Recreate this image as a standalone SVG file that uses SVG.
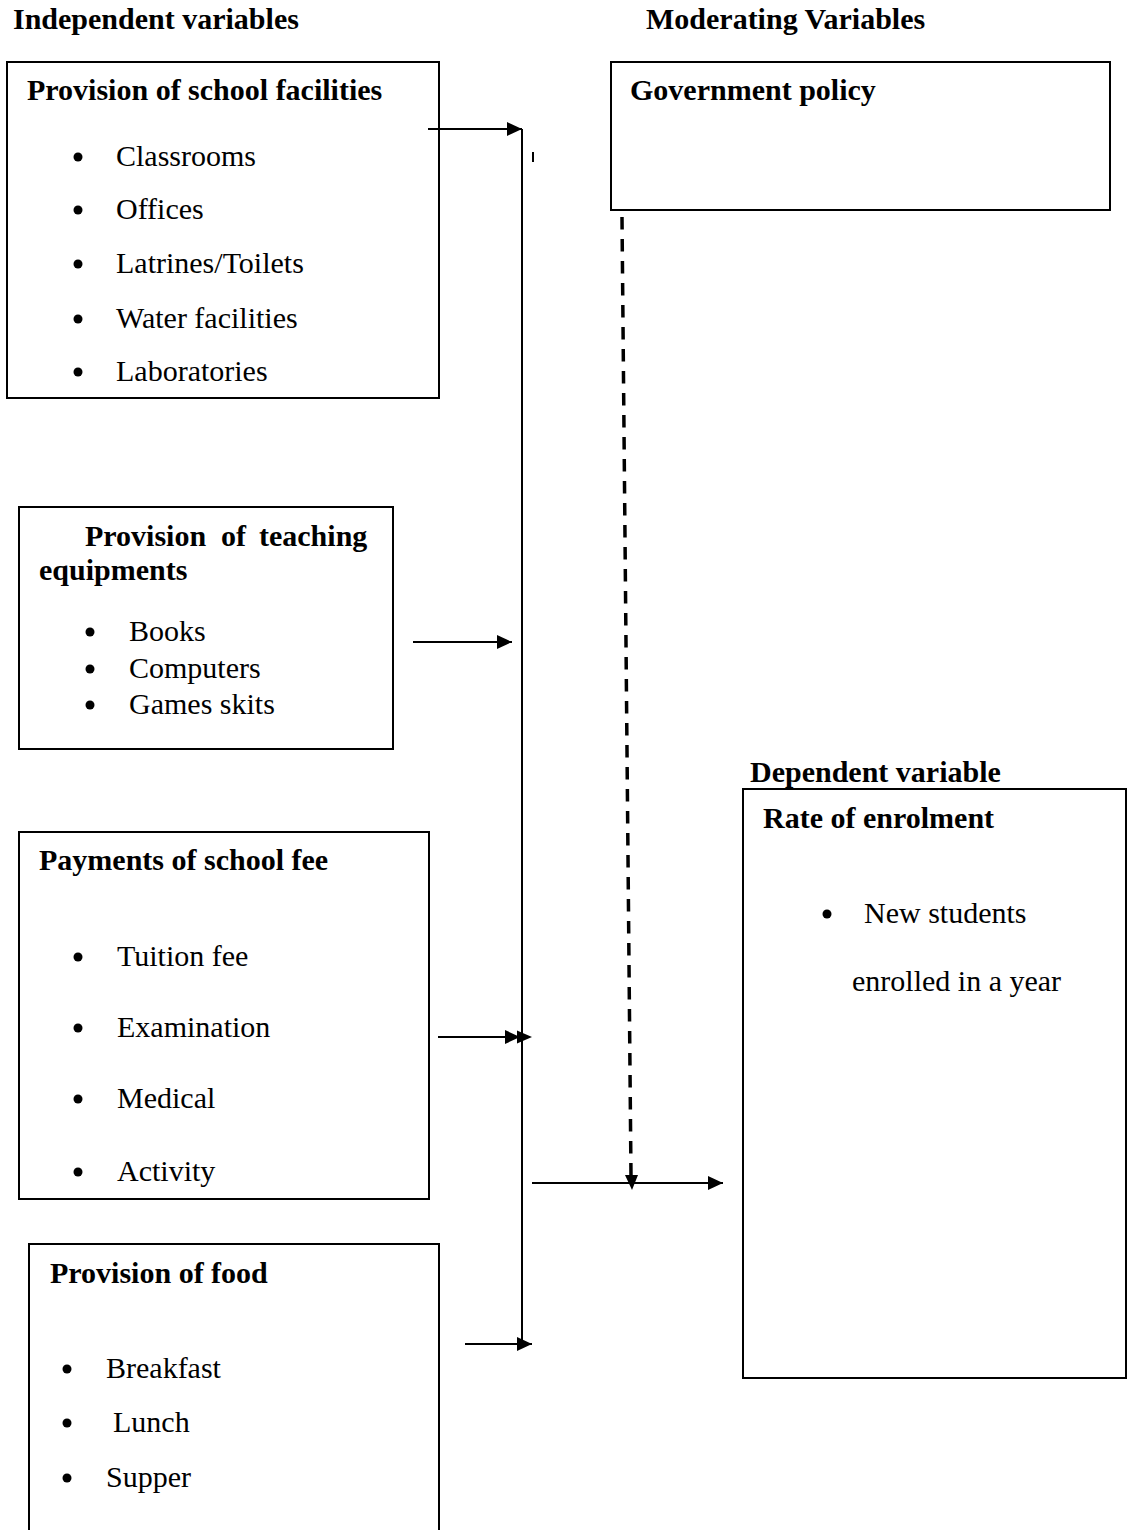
<svg xmlns="http://www.w3.org/2000/svg" width="1127" height="1530" viewBox="0 0 1127 1530">
<style>
text{font-family:"Liberation Serif","Times New Roman",serif;font-size:30px;fill:#000}
.b{font-weight:bold}
.box{fill:none;stroke:#000;stroke-width:2}
.ln{fill:none;stroke:#000;stroke-width:2}
.dash{fill:none;stroke:#000;stroke-width:3.5;stroke-dasharray:12.5 9.5}
.dot{fill:#000}
</style>
<defs>
<marker id="ah" markerUnits="userSpaceOnUse" markerWidth="16" markerHeight="14" refX="15" refY="7" orient="auto">
<path d="M0,0 L15,7 L0,14 Z" fill="#000"/>
</marker>
</defs>
<rect width="1127" height="1530" fill="#fff"/>

<text class="b" x="13" y="29">Independent variables</text>
<text class="b" x="646" y="29">Moderating Variables</text>

<g id="facilities">
<rect class="box" x="7" y="62" width="432" height="336"/>
<text class="b" x="27" y="100">Provision of school facilities</text>
<circle class="dot" cx="78" cy="157" r="4.5"/><text x="116" y="166">Classrooms</text>
<circle class="dot" cx="78" cy="210" r="4.5"/><text x="116" y="219">Offices</text>
<circle class="dot" cx="78" cy="264" r="4.5"/><text x="116" y="273">Latrines/Toilets</text>
<circle class="dot" cx="78" cy="319" r="4.5"/><text x="116" y="328">Water facilities</text>
<circle class="dot" cx="78" cy="372" r="4.5"/><text x="116" y="381">Laboratories</text>
</g>

<g id="government">
<rect class="box" x="611" y="62" width="499" height="148"/>
<text class="b" x="630" y="100">Government policy</text>
</g>

<g id="teaching">
<rect class="box" x="19" y="507" width="374" height="242"/>
<text class="b" y="546"><tspan x="85">Provision</tspan><tspan x="221">of</tspan><tspan x="259">teaching</tspan></text>
<text class="b" x="39" y="580">equipments</text>
<circle class="dot" cx="90" cy="632" r="4.5"/><text x="129" y="641">Books</text>
<circle class="dot" cx="90" cy="669" r="4.5"/><text x="129" y="678">Computers</text>
<circle class="dot" cx="90" cy="705" r="4.5"/><text x="129" y="714">Games skits</text>
</g>

<g id="fees">
<rect class="box" x="19" y="832" width="410" height="367"/>
<text class="b" x="39" y="870">Payments of school fee</text>
<circle class="dot" cx="78" cy="957" r="4.5"/><text x="117" y="966">Tuition fee</text>
<circle class="dot" cx="78" cy="1028" r="4.5"/><text x="117" y="1037">Examination</text>
<circle class="dot" cx="78" cy="1099" r="4.5"/><text x="117" y="1108">Medical</text>
<circle class="dot" cx="78" cy="1172" r="4.5"/><text x="117" y="1181">Activity</text>
</g>

<g id="food">
<path class="box" d="M29,1540 V1244 H439 V1540"/>
<text class="b" x="50" y="1283">Provision of food</text>
<circle class="dot" cx="67" cy="1369" r="4.5"/><text x="106" y="1378">Breakfast</text>
<circle class="dot" cx="67" cy="1423" r="4.5"/><text x="113" y="1432">Lunch</text>
<circle class="dot" cx="67" cy="1478" r="4.5"/><text x="106" y="1487">Supper</text>
</g>

<g id="enrolment">
<text class="b" x="750" y="782">Dependent variable</text>
<rect class="box" x="743" y="789" width="383" height="589"/>
<text class="b" x="763" y="828">Rate of enrolment</text>
<circle class="dot" cx="827" cy="914" r="4.5"/><text x="864" y="923">New students</text>
<text x="852" y="991">enrolled in a year</text>
</g>

<g id="connectors">
<line class="ln" x1="522" y1="129" x2="522" y2="1344"/>
<line class="ln" x1="533" y1="152" x2="533" y2="162"/>
<line class="ln" x1="428" y1="129" x2="522" y2="129" marker-end="url(#ah)"/>
<line class="ln" x1="413" y1="642" x2="512" y2="642" marker-end="url(#ah)"/>
<line class="ln" x1="438" y1="1037" x2="520" y2="1037" marker-end="url(#ah)"/>
<path d="M517,1030.5 L532,1037 L517,1043.5 Z" fill="#000"/>
<line class="ln" x1="465" y1="1344" x2="532" y2="1344" marker-end="url(#ah)"/>
<line class="ln" x1="532" y1="1183" x2="723" y2="1183" marker-end="url(#ah)"/>
<line class="dash" x1="622" y1="217" x2="631" y2="1176"/>
<path d="M625,1175 L638,1175 L632,1190 Z" fill="#000"/>
</g>
</svg>
